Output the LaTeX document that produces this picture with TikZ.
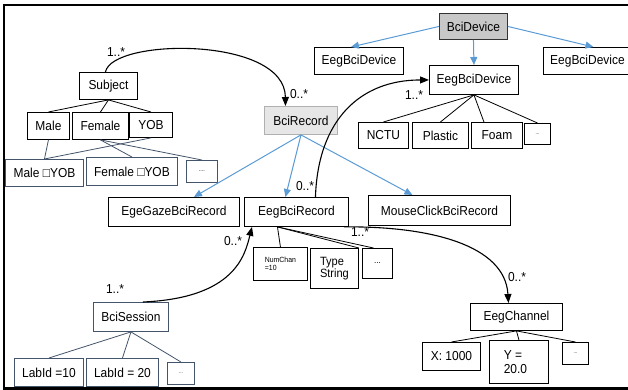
\documentclass[tikz,border=0pt]{standalone}
\usepackage{fontspec}
\setmainfont{Liberation Sans}[FakeStretch=0.92]
\usetikzlibrary{arrows.meta,calc}
\definecolor{slate}{RGB}{68,84,106}
\definecolor{linkblue}{RGB}{91,155,213}
\definecolor{recfill}{RGB}{230,230,230}
\definecolor{recline}{RGB}{176,176,176}
\definecolor{devfill}{RGB}{200,200,200}
\begin{document}
\begin{tikzpicture}[x=1pt,y=-1pt,
  txt/.style={font=\fontsize{13}{14}\selectfont},
  box/.style={draw=black,line width=0.9pt,anchor=north west,inner sep=0pt,txt,align=center},
  sbox/.style={box,draw=slate},
  tiny/.style={font=\fontsize{5}{6}\selectfont},
  tie/.style={draw=black,line width=0.8pt},
  stie/.style={draw=slate,line width=0.8pt},
  isa/.style={draw=linkblue,line width=1pt,-{Triangle[length=8pt,width=7pt]}},
  assoc/.style={draw=black,line width=1.1pt,-{Triangle[length=9pt,width=7pt]}}]
\useasboundingbox (0,0) rectangle (628,390);
% outer frame
\draw[line width=2.2pt] (4,5) rectangle (660,388.5);

% subject branch
\node[box,minimum width=58pt,minimum height=27pt] (subj) at (79,72) {Subject};
\node[box,minimum width=42pt,minimum height=27pt] (male) at (27,112) {Male};
\node[box,minimum width=56pt,minimum height=27pt] (female) at (72,112) {Female};
\node[box,minimum width=43pt,minimum height=25pt] (yob) at (129,112) {YOB};
\node[sbox,minimum width=78pt,minimum height=27pt] (maleyob) at (5,159) {Male □YOB};
\node[sbox,minimum width=91pt,minimum height=28pt] (femyob) at (86,157) {Female □YOB};
\node[sbox,minimum width=31pt,minimum height=22pt,font=\fontsize{6}{7}\selectfont] (sdots) at (186,160) {....};

% records
\node[box,draw=recline,fill=recfill,minimum width=73pt,minimum height=28pt] (bcirec) at (264,106) {BciRecord};
\node[box,minimum width=131pt,minimum height=29pt] (gaze) at (108,197) {EgeGazeBciRecord};
\node[box,minimum width=104pt,minimum height=29pt] (eegrec) at (244,197) {EegBciRecord};
\node[box,minimum width=142pt,minimum height=30pt] (mouse) at (368,195) {MouseClickBciRecord};
\node[box,minimum width=54pt,minimum height=33pt,font=\fontsize{7.5}{8.5}\selectfont,align=left] (numchan) at (253,247) {NumChan\\=10\hspace*{15pt}};
\node[box,minimum width=48pt,minimum height=40pt,font=\fontsize{12}{11}\selectfont,align=left] (typestr) at (310,248) {Type\\String};
\node[box,minimum width=30pt,minimum height=30pt,font=\fontsize{9}{10}\selectfont] (rdots) at (362,248) {...};

% devices
\node[box,draw=black!80,fill=devfill,minimum width=68pt,minimum height=26pt] (bcidev) at (439,13) {BciDevice};
\node[box,minimum width=89pt,minimum height=27pt] (dev1) at (314,47) {EegBciDevice};
\node[box,minimum width=89pt,minimum height=29pt] (dev2) at (429,65) {EegBciDevice};
\node[box,minimum width=88pt,minimum height=27pt] (dev3) at (543,47) {EegBciDevice};
\node[box,minimum width=50pt,minimum height=26pt] (nctu) at (358,122) {NCTU};
\node[box,minimum width=56pt,minimum height=26pt] (plastic) at (412,122) {Plastic};
\node[box,minimum width=51pt,minimum height=26pt] (foam) at (471,122) {Foam};
\node[box,minimum width=26pt,minimum height=21pt,tiny] (ddots) at (524,123) {...};

% session branch
\node[sbox,minimum width=75pt,minimum height=29pt] (session) at (93,302) {BciSession};
\node[sbox,minimum width=69pt,minimum height=28pt] (lab10) at (14,358) {LabId =10};
\node[sbox,minimum width=72pt,minimum height=28pt] (lab20) at (86,358) {LabId = 20};
\node[sbox,minimum width=27pt,minimum height=22pt,tiny] (ldots) at (167,362) {...};

% channel branch
\node[box,minimum width=92pt,minimum height=27pt] (chan) at (470,303) {EegChannel};
\node[box,minimum width=58pt,minimum height=28pt] (xbox) at (422,342) {X: 1000};
\node[box,minimum width=59pt,minimum height=43pt,align=left] (ybox) at (489,340) {Y =\hspace*{12pt}\\20.0};
\node[box,minimum width=26pt,minimum height=22pt,tiny] (cdots) at (562,342) {...};

% plain tree links
\draw[tie] (subj.south) -- (male.north);
\draw[tie] (subj.south) -- (female.north);
\draw[tie] (subj.south) -- (yob.north);
\draw[stie] (male.south) -- (maleyob.north);
\draw[stie] (yob.south) -- (maleyob.north);
\draw[stie] (female.south) -- (femyob.north);
\draw[stie] (female.south) -- (sdots.north);

\draw[tie] (dev2.south) -- (nctu.north);
\draw[tie] (dev2.south) -- (plastic.north);
\draw[tie] (dev2.south) -- ($(foam.north)+(-13,0)$);
\draw[tie] (dev2.south) -- (ddots.north);

\draw[tie] ($(eegrec.south)+(-19,0)$) -- (numchan.north);
\draw[tie] ($(eegrec.south)+(-19,0)$) -- (typestr.north east);
\draw[tie] ($(eegrec.south)+(-19,0)$) -- ($(rdots.north)+(-4,0)$);

\draw[stie] (session.south) -- (lab10.north);
\draw[stie] (session.south) -- (lab20.north);
\draw[stie] (session.south) -- (ldots.north);

\draw[tie] (chan.south) -- (xbox.north);
\draw[tie] (chan.south) -- (ybox.north);
\draw[tie] (chan.south) -- (cdots.north);

% generalisation arrows
\draw[isa] (bcirec.south) -- ($(gaze.north)+(20,0)$);
\draw[isa] (bcirec.south) -- ($(eegrec.north)+(-11,0)$);
\draw[isa] (bcirec.south) -- ($(mouse.north)+(-27,0)$);
\draw[isa] (bcidev.west) -- ($(dev1.north)+(-8,0)$);
\draw[isa] (bcidev.south) -- (dev2.north);
\draw[isa] (bcidev.east) -- ($(dev3.north)+(6,0)$);

% associations
\draw[assoc] ($(subj.north)+(-3,0)$) .. controls (112,38) and (285,36) .. ($(bcirec.north)+(-15.5,0)$);
\draw[assoc] ($(eegrec.north)+(19,0)$) .. controls (318,120) and (360,80) .. (dev2.west);
\draw[assoc] ($(session.north)+(12,0)$) .. controls (235,298) and (245,255) .. ($(eegrec.south west)+(8,0)$);
\draw[assoc] ($(eegrec.south east)+(-5,0)$) .. controls (430,226) and (505,245) .. ($(chan.north)+(-8,0)$);

% multiplicities
\node[txt] (m1) at (116,52) {1..*};
\node[txt] (m2) at (299,94) {0..*};
\node[txt] (m3) at (414,95) {1..*};
\node[txt] (m4) at (305,186) {0..*};
\node[txt] (m5) at (233,241) {0..*};
\node[txt] (m6) at (115,289) {1..*};
\node[txt] (m7) at (360,232) {1..*};
\node[txt] (m8) at (517,277) {0..*};
\end{tikzpicture}
\end{document}
